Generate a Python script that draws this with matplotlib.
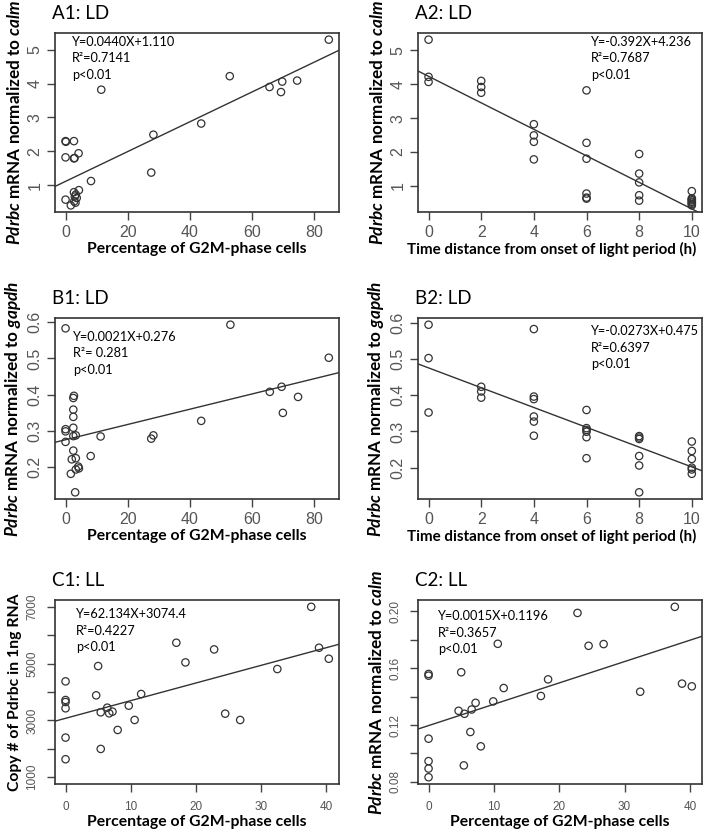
import matplotlib
matplotlib.use('Agg')
import matplotlib.pyplot as plt
import numpy as np

plt.rcParams['font.family'] = ['Lato', 'DejaVu Sans']
plt.rcParams['mathtext.fontset'] = 'custom'
plt.rcParams['mathtext.it'] = 'Lato:italic:bold'
plt.rcParams['mathtext.rm'] = 'Lato:bold'

# A1: Pdrbc/calm vs G2M %
a1_x = [84.8, 52.9, 65.7, 69.8, 69.4, 74.6, 43.7, 28.3, 27.6, 11.5, 8.2, 0.0, 0.1, 0.0,
        2.7, 2.7, 2.9, 4.2, 0.0, 1.7, 2.7, 3.0, 3.3, 2.8, 3.6, 3.2, 4.3]
a1_y = [5.30, 4.22, 3.90, 4.06, 3.75, 4.09, 2.82, 2.49, 1.37, 3.82, 1.12, 2.30, 2.28, 1.82,
        2.30, 1.79, 1.80, 1.94, 0.57, 0.40, 0.79, 0.66, 0.72, 0.52, 0.62, 0.48, 0.85]
# A2: Pdrbc/calm vs time
a2_x = [0, 0, 0, 2, 2, 2, 4, 4, 4, 4, 6, 6, 6, 6, 6, 6, 8, 8, 8, 8, 8,
        10, 10, 10, 10, 10, 10, 10, 10]
a2_y = [5.32, 4.22, 4.07, 4.10, 3.92, 3.75, 2.82, 2.49, 2.30, 1.78,
        3.82, 2.27, 1.80, 0.77, 0.65, 0.62, 1.94, 1.36, 1.10, 0.72, 0.56,
        0.84, 0.63, 0.60, 0.57, 0.53, 0.50, 0.46, 0.42]
# B1: Pdrbc/gapdh vs G2M %
b1_x = [0.0, 53.1, 84.8, 65.8, 69.6, 70.0, 74.9, 43.7, 27.6, 28.3, 11.3, 8.1, 0.0, 0.0, 0.0,
        2.7, 2.5, 2.5, 2.5, 2.5, 2.5, 3.3, 2.5, 2.0, 3.3, 1.7, 3.3, 4.1, 4.3, 3.1]
b1_y = [0.583, 0.593, 0.502, 0.408, 0.422, 0.350, 0.394, 0.328, 0.279, 0.288, 0.285, 0.231,
        0.305, 0.299, 0.270, 0.397, 0.391, 0.359, 0.339, 0.309, 0.286, 0.288, 0.246, 0.222,
        0.225, 0.182, 0.194, 0.202, 0.197, 0.131]
# B2: Pdrbc/gapdh vs time
b2_x = [0, 0, 0, 2, 2, 2, 4, 4, 4, 4, 4, 4, 6, 6, 6, 6, 6, 6, 8, 8, 8, 8, 8, 8,
        10, 10, 10, 10, 10, 10]
b2_y = [0.594, 0.502, 0.352, 0.423, 0.410, 0.393, 0.582, 0.396, 0.389, 0.341, 0.327, 0.288,
        0.359, 0.309, 0.304, 0.299, 0.284, 0.226, 0.287, 0.283, 0.279, 0.232, 0.206, 0.132,
        0.272, 0.246, 0.224, 0.200, 0.195, 0.183]
# C1: copy number vs G2M % (LL)
c1_x = [37.7, 38.9, 40.4, 32.5, 17.0, 18.4, 22.8, 5.0, 0.0, 0.0, 0.0, 0.0, 0.0, 0.0,
        4.7, 11.6, 9.7, 6.4, 5.4, 6.7, 7.2, 10.6, 8.0, 5.4, 24.5, 26.8]
c1_y = [7000, 5559, 5172, 4809, 5735, 5043, 5500, 4914, 4375, 3719, 3648, 3426, 2395, 1633,
        3883, 3930, 3520, 3449, 3285, 3250, 3309, 3016, 2664, 1996, 3238, 3016]
# C2: Pdrbc/calm vs G2M % (LL)
c2_x = [37.7, 22.8, 0.0, 0.0, 0.0, 0.0, 0.0, 0.0, 5.0, 10.6, 24.5, 26.8, 18.3, 11.5,
        17.2, 32.4, 38.8, 40.3, 9.9, 7.2, 6.6, 4.6, 5.5, 6.4, 8.0, 5.4]
c2_y = [0.2031, 0.1988, 0.1559, 0.1547, 0.1104, 0.0946, 0.0894, 0.0833, 0.1571, 0.1771,
        0.1757, 0.1769, 0.1521, 0.1460, 0.1404, 0.1434, 0.1491, 0.1472, 0.1366, 0.1356,
        0.1309, 0.1300, 0.1279, 0.1151, 0.1050, 0.0916]

# regression lines (slope, intercept) as printed on the panels
a1_fit = (0.0440, 1.110)
a2_fit = (-0.392, 4.236)
b1_fit = (0.0021, 0.276)
b2_fit = (-0.0273, 0.475)
c1_fit = (62.134, 3074.4)
c2_fit = (0.0015, 0.1196)

a1_note = ['Y=0.0440X+1.110', 'R\u00b2=0.7141', 'p<0.01']
a2_note = ['Y=-0.392X+4.236', 'R\u00b2=0.7687', 'p<0.01']
b1_note = ['Y=0.0021X+0.276', 'R\u00b2= 0.281', 'p<0.01']
b2_note = ['Y=-0.0273X+0.475', 'R\u00b2=0.6397', 'p<0.01']
c1_note = ['Y=62.134X+3074.4', 'R\u00b2=0.4227', 'p<0.01']
c2_note = ['Y=0.0015X+0.1196', 'R\u00b2=0.3657', 'p<0.01']

xlab_g2m = 'Percentage of G2M-phase cells'
xlab_time = 'Time distance from onset of light period (h)'
ylab_calm = r'$Pdrbc$ mRNA normalized to $calm$'
ylab_gapdh = r'$Pdrbc$ mRNA normalized to $gapdh$'
ylab_copy = 'Copy # of Pdrbc in 1ng RNA'


def rlim(lo, hi):
    # R style 4% padding
    d = (hi - lo) * 0.04
    return lo - d, hi + d


def panel(rect, x, y, fit, title, xlab, ylab, note, note_xy,
          xticks, yticks, ylabels=None, ylim=None, tsize=11.5, ysize=12.3, tpad=3,
          xsize=11.3, xlab_x=0.5):
    ax = fig.add_axes(rect)
    ax.scatter(x, y, s=28, facecolors='none', edgecolors='#333333', linewidths=0.9, zorder=3)
    xl = rlim(min(x), max(x))
    yl = ylim if ylim is not None else rlim(min(y), max(y))
    xs = np.array(xl)
    ax.plot(xs, fit[0] * xs + fit[1], color='#333333', lw=1.0)
    ax.set_xlim(xl)
    ax.set_ylim(yl)
    ax.set_xticks(xticks)
    ax.set_yticks(yticks)
    if ylabels is not None:
        ax.set_yticklabels(ylabels)
    ax.tick_params(direction='out', length=6, width=1, color='#444444',
                   labelcolor='#555555', labelsize=tsize, pad=tpad)
    for lbl in ax.get_yticklabels():
        lbl.set_rotation(90)
        lbl.set_va('center')
        lbl.set_family(['Liberation Sans'])
    for lbl in ax.get_xticklabels():
        lbl.set_family(['Liberation Sans'])
    for s in ax.spines.values():
        s.set_linewidth(1.2)
        s.set_color('#333333')
    ax.set_xlabel(xlab, fontsize=xsize, fontweight='bold', labelpad=2)
    ax.xaxis.label.set_x(xlab_x)
    ax.set_ylabel(ylab, fontsize=ysize, fontweight='bold', labelpad=3)
    ax.text(-0.01, 1.06, title, transform=ax.transAxes, fontsize=13.5, va='bottom', ha='left')
    ax.text(note_xy[0], note_xy[1], '\n'.join(note), transform=ax.transAxes,
            fontsize=9.2, va='top', ha='left', linespacing=1.45)
    return ax


fig = plt.figure(figsize=(7.09, 8.38), dpi=100)

lx, rx, w = 0.0776, 0.5896, 0.401
panel([lx, 0.747, w, 0.2136], a1_x, a1_y, a1_fit, 'A1: LD', xlab_g2m, ylab_calm, a1_note,
      (0.06, 0.985), [0, 20, 40, 60, 80], [1, 2, 3, 4, 5])
panel([rx, 0.747, w, 0.2136], a2_x, a2_y, a2_fit, 'A2: LD', xlab_time, ylab_calm, a2_note,
      (0.608, 0.985), [0, 2, 4, 6, 8, 10], [1, 2, 3, 4, 5], xsize=10.9, xlab_x=0.47)
panel([lx, 0.4045, w, 0.216], b1_x, b1_y, b1_fit, 'B1: LD', xlab_g2m, ylab_gapdh, b1_note,
      (0.064, 0.93), [0, 20, 40, 60, 80], [0.2, 0.3, 0.4, 0.5, 0.6])
panel([rx, 0.4045, w, 0.216], b2_x, b2_y, b2_fit, 'B2: LD', xlab_time, ylab_gapdh, b2_note,
      (0.608, 0.96), [0, 2, 4, 6, 8, 10], [0.2, 0.3, 0.4, 0.5, 0.6], xsize=10.9, xlab_x=0.47)
panel([lx, 0.0644, w, 0.2196], c1_x, c1_y, c1_fit, 'C1: LL', xlab_g2m, ylab_copy, c1_note,
      (0.074, 0.955), [0, 10, 20, 30, 40], [1000, 2000, 3000, 4000, 5000, 6000, 7000],
      ylabels=['1000', '', '3000', '', '5000', '', '7000'], ylim=rlim(1000, 7000),
      tsize=8.5, ysize=11.3, tpad=6)
panel([rx, 0.0644, w, 0.2196], c2_x, c2_y, c2_fit, 'C2: LL', xlab_g2m, ylab_calm, c2_note,
      (0.07, 0.945), [0, 10, 20, 30, 40], [0.08, 0.10, 0.12, 0.14, 0.16, 0.18, 0.20],
      ylabels=['0.08', '', '0.12', '', '0.16', '', '0.20'], tsize=8.5, ysize=12.3, tpad=6)

fig.savefig('out.png', dpi=100)
